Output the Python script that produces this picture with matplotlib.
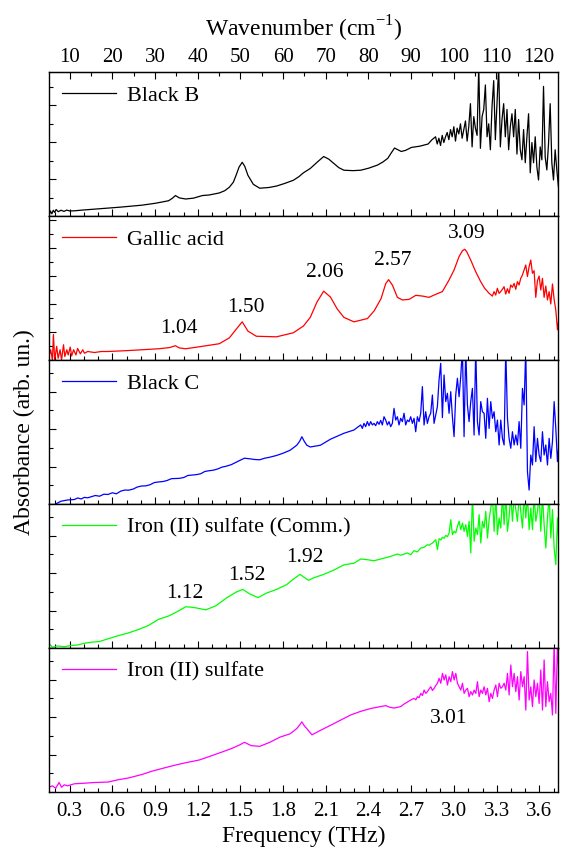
import numpy as np
import matplotlib
matplotlib.use('Agg')
import matplotlib.pyplot as plt
from matplotlib.ticker import MultipleLocator

plt.rcParams['font.family'] = 'Liberation Serif'
plt.rcParams['mathtext.fontset'] = 'custom'
plt.rcParams['mathtext.rm'] = 'Liberation Serif'

THZ_TO_CM = 33.356

# ---- Black B ----
freq_black_b = [0.155, 0.165, 0.175, 0.185, 0.195, 0.205, 0.22, 0.24, 0.26, 0.28,
                0.30, 0.333, 0.40, 0.48, 0.569, 0.65, 0.73, 0.806, 0.90, 0.995,
                1.02, 1.043, 1.07, 1.114, 1.17, 1.21, 1.232, 1.28, 1.351, 1.39,
                1.422, 1.45, 1.469, 1.49, 1.512, 1.53, 1.552, 1.59, 1.635, 1.70,
                1.753, 1.81, 1.871, 1.91, 1.942, 1.990, 2.04, 2.084, 2.12, 2.155,
                2.19, 2.226, 2.29, 2.345, 2.40, 2.463, 2.50, 2.534, 2.56, 2.582,
                2.605, 2.629, 2.66, 2.700, 2.76, 2.818, 2.845]
abs_black_b = [0.0, 3.5, 1.5, 4.0, 2.5, 4.5, 3.0, 4.0, 3.2, 4.1,
               3.5, 3.6, 4.2, 4.8, 5.4, 6.1, 6.8, 7.5, 8.8, 10.6,
               12.2, 14.2, 12.6, 11.8, 12.4, 13.6, 14.2, 14.6, 16.0, 17.6,
               20.0, 23.5, 28.3, 34.0, 37.3, 34.5, 28.3, 22.0, 19.3, 19.8,
               20.8, 22.6, 24.8, 27.3, 30.0, 33.0, 37.5, 41.3, 39.5, 36.6,
               33.6, 31.8, 31.5, 31.8, 33.2, 35.4, 37.5, 40.0, 44.0, 47.2,
               46.0, 44.8, 45.6, 47.6, 48.5, 50.0, 53.0]
# noisy high-frequency end, evenly sampled between these limits
tail_range_black_b = (2.87, 3.745)
tail_black_b = [55, 50, 54, 49, 56, 51, 55, 58, 53, 60,
                55, 62, 52, 61, 57, 64, 54, 60, 66, 52,
                62, 78, 48, 69, 61, 56, 104, 47, 69, 74,
                91, 55, 64, 46, 76, 94, 53, 78, 104, 48,
                67, 78, 55, 74, 46, 62, 71, 55, 74, 43,
                67, 46, 39, 60, 37, 55, 71, 30, 51, 37,
                55, 34, 25, 48, 39, 90, 41, 32, 50, 78,
                37, 25, 46, 32, 20, 34]

# ---- Gallic acid ----
freq_gallic = [0.155, 0.167, 0.179, 0.186, 0.195, 0.209, 0.219, 0.233, 0.243, 0.257,
               0.266, 0.280, 0.290, 0.304, 0.314, 0.328, 0.344, 0.356, 0.375, 0.392,
               0.404, 0.427, 0.475, 0.522, 0.569, 0.70, 0.806, 0.924, 1.00, 1.043,
               1.07, 1.114, 1.232, 1.351, 1.422, 1.469, 1.512, 1.552, 1.611, 1.753,
               1.871, 1.942, 1.990, 2.037, 2.084, 2.132, 2.179, 2.226, 2.297, 2.392,
               2.440, 2.487, 2.520, 2.540, 2.567, 2.602, 2.637, 2.684, 2.731, 2.778,
               2.824, 2.871, 2.918, 2.965, 3.0, 3.035, 3.059, 3.075, 3.089, 3.117,
               3.152, 3.187, 3.215, 3.246]
abs_gallic = [2.4, 7.1, 0.0, 17.7, 0.0, 9.5, 1.2, 7.1, 0.0, 10.6,
              2.4, 7.1, 3.5, 9.0, 2.8, 7.1, 3.5, 8.0, 4.3, 7.1,
              4.7, 5.9, 5.2, 5.9, 5.9, 6.5, 7.1, 7.8, 8.6, 9.9,
              8.4, 7.8, 9.5, 11.3, 15.4, 21.3, 26.5, 20.1, 16.5, 16.1,
              18.9, 23.6, 29.6, 40.2, 47.8, 43.7, 35.5, 29.6, 26.5, 28.8,
              34.3, 42.6, 53.0, 55.8, 52.0, 43.5, 41.7, 42.1, 44.9, 44.4,
              43.5, 45.6, 47.5, 55.6, 62.5, 71.8, 75.9, 76.9, 75.2, 69.4,
              61.3, 54.4, 49.8, 46.3]
tail_range_gallic = (3.269, 3.738)
tail_gallic = [44.4, 47.5, 45.1, 49.8, 46.3, 47.5, 49.1, 50.9, 45.8, 49.5,
               46.3, 52.1, 50.5, 53.2, 49.1, 54.4, 52.1, 56.7, 59.0, 62.5,
               66.0, 57.9, 64.8, 69.4, 60.2, 62.0, 43.5, 55.1, 58.3, 48.6,
               56.7, 43.5, 51.4, 41.7, 47.5, 38.9, 52.8, 42.1, 34.7, 21.0,
               30.0]
peaks_gallic = ['1.04', '1.50', '2.06', '2.57', '3.09']
peaks_gallic_pos = [(1.066, 21.7), (1.540, 36.6), (2.092, 60.8), (2.567, 69.0), (3.089, 87.5)]

# ---- Black C ----
freq_black_c = [0.202, 0.238, 0.285, 0.333, 0.357, 0.380, 0.404, 0.427, 0.451, 0.480,
                0.510, 0.540, 0.569, 0.600, 0.628, 0.660, 0.688, 0.715, 0.747, 0.775,
                0.806, 0.835, 0.865, 0.895, 0.924, 0.955, 0.984, 1.015, 1.043, 1.070,
                1.102, 1.130, 1.161, 1.190, 1.220, 1.250, 1.280, 1.310, 1.339, 1.370,
                1.398, 1.435, 1.469, 1.500, 1.528, 1.564, 1.600, 1.635, 1.670, 1.706,
                1.753, 1.800, 1.848, 1.895, 1.915, 1.931, 1.948, 1.966, 1.990, 2.061,
                2.132, 2.226, 2.297]
abs_black_c = [0.0, 1.9, 2.8, 3.1, 4.2, 3.5, 4.6, 4.3, 5.0, 5.9,
               5.4, 6.8, 6.6, 7.8, 7.1, 9.0, 9.7, 9.6, 10.4, 11.8,
               12.5, 12.6, 13.4, 14.9, 15.3, 15.6, 16.3, 17.6, 17.7, 17.8,
               18.4, 19.8, 20.1, 20.4, 21.0, 22.6, 23.1, 23.5, 24.3, 25.6,
               26.2, 27.3, 29.0, 30.5, 31.8, 31.4, 30.9, 30.7, 31.8, 32.5,
               33.7, 35.3, 37.3, 40.8, 43.5, 46.7, 43.5, 40.8, 39.6, 40.8,
               45.0, 49.1, 51.4]
tail_range_black_c = (2.344, 3.738)
tail_black_c = [54.9, 52.5, 56.0, 53.7, 57.2, 54.4, 57.2, 54.9, 56.0, 54.4,
                57.2, 55.3, 58.1, 54.9, 60.6, 58.3, 54.9, 57.2, 53.7, 56.0,
                66.4, 58.3, 60.6, 54.9, 59.5, 57.2, 63.0, 54.9, 58.3, 57.2,
                60.6, 56.0, 59.5, 50.2, 60.6, 57.2, 63.0, 81.5, 54.9, 64.1,
                56.0, 60.6, 63.0, 75.7, 56.0, 61.8, 67.6, 86.1, 97.7, 60.0,
                89.6, 71.1, 76.9, 63.0, 78.0, 60.6, 46.8, 75.7, 87.3, 74.5,
                88.4, 108, 46.8, 108, 68.8, 57.2, 71.1, 80.3, 47.9, 108,
                57.2, 47.9, 71.1, 64.1, 63.0, 45.6, 73.4, 52.5, 71.1, 59.5,
                64.1, 50.2, 58.3, 41.0, 58.3, 45.6, 41.0, 108, 59.5, 45.6,
                38.7, 50.2, 41.0, 47.9, 41.0, 57.2, 38.7, 80.3, 68.8, 108,
                22.5, 9.7, 34.0, 27.1, 53.7, 29.4, 45.6, 34.0, 29.4, 50.2,
                34.0, 41.0, 27.1, 45.6, 31.7, 43.3, 71.1, 52.5, 29.4, 43.3]

# ---- Iron (II) sulfate (Comm.) ----
freq_iron_comm = [0.155, 0.179, 0.214, 0.262, 0.309, 0.356, 0.404, 0.451, 0.510, 0.569,
                  0.640, 0.711, 0.782, 0.853, 0.924, 0.995, 1.066, 1.114, 1.150, 1.185,
                  1.256, 1.327, 1.398, 1.469, 1.516, 1.564, 1.623, 1.682, 1.753, 1.824,
                  1.871, 1.919, 1.942, 1.978, 2.013, 2.084, 2.155, 2.226, 2.297, 2.344,
                  2.391, 2.438, 2.485, 2.532, 2.578, 2.602, 2.625, 2.672, 2.696, 2.719,
                  2.742, 2.766, 2.789]
abs_iron_comm = [3.3, 0.5, 1.4, 0.9, 1.7, 2.1, 3.3, 4.0, 4.5, 6.4,
                 8.5, 10.4, 12.8, 15.6, 19.9, 22.2, 25.8, 28.6, 28.4, 27.9,
                 26.5, 29.3, 34.5, 38.8, 40.7, 37.6, 35.0, 38.1, 40.7, 44.0,
                 47.8, 51.1, 49.4, 47.0, 48.7, 51.1, 54.1, 57.7, 58.9, 61.8,
                 61.3, 60.6, 61.8, 63.0, 64.4, 65.3, 64.4, 66.0, 64.8, 67.6,
                 66.7, 69.4, 69.9]
tail_range_iron_comm = (2.813, 3.738)
tail_iron_comm = [71.8, 71.3, 72.2, 72.9, 74.1, 75.2, 68.3, 75.9, 75.0, 76.9,
                  76.2, 78.2, 77.3, 79.9, 89.1, 78.7, 81.0, 79.9, 84.5, 88.0,
                  82.2, 86.8, 81.0, 85.6, 77.5, 88.0, 66.0, 106, 74.1, 83.3,
                  78.7, 92.6, 72.9, 88.0, 83.3, 94.9, 76.4, 89.1, 97.2, 106,
                  81.0, 106, 78.7, 90.3, 83.3, 106, 85.6, 106, 81.0, 91.4,
                  106, 88.0, 106, 96.1, 88.0, 106, 94.9, 83.3, 106, 90.3,
                  106, 82.2, 97.2, 82.2, 106, 88.0, 94.9, 106, 81.0, 106,
                  85.6, 69.4, 90.3, 106, 76.4, 96.1, 69.4, 57.9, 90.3, 69.4]
peaks_iron_comm = ['1.12', '1.52', '1.92']
peaks_iron_comm_pos = [(1.109, 37.6), (1.545, 50.6), (1.949, 62.9)]

# ---- Iron (II) sulfate ----
freq_iron = [0.155, 0.179, 0.202, 0.226, 0.243, 0.262, 0.285, 0.333, 0.404, 0.475,
             0.569, 0.640, 0.711, 0.806, 0.877, 0.948, 1.043, 1.114, 1.209, 1.280,
             1.374, 1.445, 1.490, 1.528, 1.575, 1.635, 1.706, 1.777, 1.848, 1.895,
             1.915, 1.931, 1.948, 1.966, 2.002, 2.061, 2.132, 2.203, 2.274, 2.344,
             2.415, 2.485, 2.520, 2.543, 2.578, 2.625, 2.649, 2.672]
abs_iron = [3.3, 4.3, 2.6, 6.6, 3.3, 5.0, 4.3, 5.7, 6.1, 6.6,
            6.9, 8.5, 9.7, 12.1, 14.4, 16.3, 18.7, 20.3, 22.2, 24.6,
            27.9, 30.5, 32.5, 34.5, 32.2, 31.7, 34.5, 38.1, 40.4, 44.0,
            46.5, 48.7, 46.0, 44.0, 39.7, 42.8, 46.3, 49.9, 53.5, 56.0,
            58.0, 59.3, 60.0, 59.0, 58.3, 59.3, 61.1, 62.5]
tail_range_iron = (2.696, 3.738)
tail_iron = [63.9, 64.5, 65.0, 64.0, 66.2, 65.5, 68.5, 67.0, 70.8, 68.5,
             69.7, 71.5, 73.1, 70.5, 72.0, 74.0, 75.5, 78.9, 75.5, 82.4,
             77.8, 81.3, 74.3, 80.1, 76.6, 83.6, 77.8, 82.4, 75.5, 73.1,
             70.8, 75.5, 68.5, 70.8, 72.0, 66.2, 69.7, 67.4, 70.8, 68.5,
             76.6, 66.2, 70.8, 68.5, 73.1, 67.4, 72.0, 62.7, 68.5, 65.0,
             70.8, 74.3, 66.2, 75.5, 72.0, 73.1, 75.5, 70.8, 82.4, 67.4,
             88.2, 73.1, 82.4, 69.7, 80.1, 63.9, 83.6, 73.1, 80.1, 56.9,
             97.5, 63.9, 73.1, 59.3, 77.8, 66.2, 75.5, 61.5, 84.7, 56.9,
             91.7, 59.3, 76.6, 62.7, 68.5, 53.5, 104, 54.6, 104, 77.8]
peaks_iron = ['3.01']
peaks_iron_pos = [(2.965, 51.2)]


def spectrum(freq, absb, tail, tail_range):
    f_tail = np.linspace(tail_range[0], tail_range[1], len(tail))
    return np.concatenate([freq, f_tail]), np.concatenate([absb, tail])


samples = [
    ('Black B', 'black', spectrum(freq_black_b, abs_black_b, tail_black_b, tail_range_black_b), [], [], 12.8),
    ('Gallic acid', 'red', spectrum(freq_gallic, abs_gallic, tail_gallic, tail_range_gallic), peaks_gallic, peaks_gallic_pos, 9.7),
    ('Black C', 'blue', spectrum(freq_black_c, abs_black_c, tail_black_c, tail_range_black_c), [], [], 13.0),
    ('Iron (II) sulfate (Comm.)', '#00ff00', spectrum(freq_iron_comm, abs_iron_comm, tail_iron_comm, tail_range_iron_comm), peaks_iron_comm, peaks_iron_comm_pos, 13.0),
    ('Iron (II) sulfate', 'magenta', spectrum(freq_iron, abs_iron, tail_iron, tail_range_iron), peaks_iron, peaks_iron_pos, 13.0),
]

fig = plt.figure(figsize=(5.64, 8.56), dpi=100)
left, width = 49 / 564, 509 / 564
panel_h = 144 / 856
bottom0 = 1 - 792 / 856

axes = []
for i, (name, color, (f, a), labels, label_pos, ystep) in enumerate(samples):
    ax = fig.add_axes([left, bottom0 + (4 - i) * panel_h, width, panel_h])
    ax.plot(f, a, color=color, lw=0.9, label=name)
    for txt, (px, py) in zip(labels, label_pos):
        ax.text(px, py, txt, ha='center', va='center', fontsize=15.5)
    ax.set_xlim(0.155, 3.73)
    ax.set_ylim(0, 100)
    ax.xaxis.set_major_locator(MultipleLocator(0.3))
    ax.xaxis.set_minor_locator(MultipleLocator(0.1))
    ax.yaxis.set_major_locator(MultipleLocator(2 * ystep))
    ax.yaxis.set_minor_locator(MultipleLocator(ystep))
    ax.tick_params(which='both', direction='in', top=False, right=False,
                   labelleft=False, labelbottom=(i == 4), labelsize=15)
    ax.tick_params(which='major', length=5, width=0.8)
    ax.tick_params(which='minor', length=3, width=0.8)
    for s in ax.spines.values():
        s.set_linewidth(1.0)
    ax.legend(loc='upper left', frameon=False, fontsize=16, handlelength=2.4,
              handletextpad=0.5, borderaxespad=0.2, borderpad=0.4)
    axes.append(ax)

axes[-1].tick_params(axis='x', which='major', pad=7)
axes[-1].set_xlabel('Frequency (THz)', fontsize=17, labelpad=4)

top = axes[0].secondary_xaxis('top', functions=(lambda x: x * THZ_TO_CM,
                                                lambda w: w / THZ_TO_CM))
top.set_xticks(np.arange(10, 121, 10))
top.xaxis.set_minor_locator(MultipleLocator(5))
top.tick_params(which='both', direction='in', labelsize=15)
top.tick_params(which='major', length=5, width=0.8)
top.tick_params(which='minor', length=3, width=0.8)
top.set_xlabel('Wavenumber (cm$^{-1}$)', fontsize=17, labelpad=8)

fig.text(0.044, 0.495, 'Absorbance (arb. un.)', rotation=90, ha='center',
         va='center', fontsize=17)

fig.savefig('out.png', dpi=100)
